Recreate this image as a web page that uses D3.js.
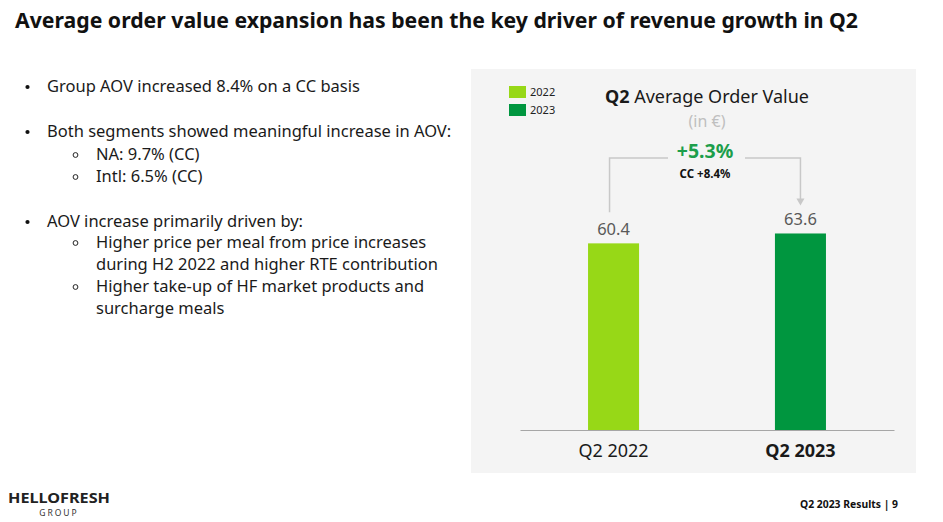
<!DOCTYPE html>
<html><head><meta charset="utf-8">
<script src="https://cdn.jsdelivr.net/npm/d3@7"></script>
<style>
html,body{margin:0;padding:0;background:#fff;}
svg{display:block;font-family:"Noto Sans","Open Sans",sans-serif;}
</style></head>
<body><svg id="c" width="943" height="522"></svg>
<script>
const categories = ["Q2 2022", "Q2 2023"];
const legendLabels = ["2022", "2023"];
const values = [60.4, 63.6];
const growthLabel = "+5.3%";
const ccLabel = "CC +8.4%";
const bullets = [
  {lvl:0, lines:["Group AOV increased 8.4% on a CC basis"]},
  {lvl:0, lines:["Both segments showed meaningful increase in AOV:"]},
  {lvl:1, lines:["NA: 9.7% (CC)"]},
  {lvl:1, lines:["Intl: 6.5% (CC)"]},
  {lvl:0, lines:["AOV increase primarily driven by:"]},
  {lvl:1, lines:["Higher price per meal from price increases","during H2 2022 and higher RTE contribution"]},
  {lvl:1, lines:["Higher take-up of HF market products and","surcharge meals"]}
];
const colors = ["#97d817", "#00963f"];

const svg = d3.select("#c");

// Title
svg.append("text").attr("x",15).attr("y",28)
  .attr("font-size",22).attr("font-weight",700).attr("fill","#111")
  .attr("textLength",843).attr("lengthAdjust","spacingAndGlyphs")
  .text("Average order value expansion has been the key driver of revenue growth in Q2");

// Bullets
const bulletY = [92, 137, 160, 182, 227, 248, 292];
bullets.forEach((b,i)=>{
  const y0 = bulletY[i];
  const bx = b.lvl===0 ? 26 : 74;
  const tx = b.lvl===0 ? 47 : 96;
  if(b.lvl===0){
    svg.append("circle").attr("cx",bx+1.5).attr("cy",y0-5).attr("r",2.1).attr("fill","#111");
  } else {
    svg.append("circle").attr("cx",bx+1.5).attr("cy",y0-5).attr("r",2.4).attr("fill","none").attr("stroke","#222").attr("stroke-width",1);
  }
  b.lines.forEach((ln,j)=>{
    svg.append("text").attr("x",tx).attr("y",y0+j*22).attr("font-size",16.5).attr("fill","#1a1a1a").text(ln);
  });
});

// Panel
svg.append("rect").attr("x",471).attr("y",69).attr("width",445).attr("height",404).attr("fill","#f4f4f4");

// Scales
const x = d3.scaleBand().domain(categories).range([520,894]).paddingInner(0.727).paddingOuter(0.364);
const y = d3.scaleLinear().domain([0,70]).range([430,213.7]);

// Bars
svg.selectAll("rect.bar").data(values).enter().append("rect").attr("class","bar")
  .attr("x",(d,i)=>x(categories[i])).attr("width",x.bandwidth())
  .attr("y",d=>y(d)).attr("height",d=>y(0)-y(d)).attr("fill",(d,i)=>colors[i]);

// Baseline axis
const axis = d3.axisBottom(x).tickSize(0).tickPadding(14);
const ag = svg.append("g").attr("transform",`translate(0,${y(0)})`).call(axis);
ag.select(".domain").attr("stroke","#a6a6a6").attr("stroke-width",1.2);
ag.selectAll("text").attr("font-size",18).attr("fill","#1a1a1a")
  .attr("font-family","'Noto Sans','Open Sans',sans-serif")
  .attr("font-weight",(d,i)=>i===1?700:400);

// Value labels
svg.selectAll("text.val").data(values).enter().append("text").attr("class","val")
  .attr("x",(d,i)=>x(categories[i])+x.bandwidth()/2).attr("y",d=>y(d)-8)
  .attr("text-anchor","middle").attr("font-size",16.5).attr("fill","#595959")
  .text(d=>d.toFixed(1));

// Bracket
const cx0 = x(categories[0])+x.bandwidth()/2 - 4;
const cx1 = x(categories[1])+x.bandwidth()/2;
const topY = 158;
const br = "#c8c8c8";
svg.append("path").attr("d",`M${cx0},${y(values[0])-31}V${topY}H668`).attr("fill","none").attr("stroke",br).attr("stroke-width",1.5);
svg.append("path").attr("d",`M745,${topY}H${cx1}V${y(values[1])-32}`).attr("fill","none").attr("stroke",br).attr("stroke-width",1.5);
svg.append("path").attr("d",`M${cx1-4},${y(values[1])-35}L${cx1+4},${y(values[1])-35}L${cx1},${y(values[1])-28}Z`).attr("fill",br);

const mid = (cx0+cx1)/2;
svg.append("text").attr("x",mid).attr("y",158).attr("text-anchor","middle")
  .attr("font-size",19.5).attr("font-weight",700).attr("fill","#1c9e4b").text(growthLabel);
svg.append("text").attr("x",mid).attr("y",178).attr("text-anchor","middle")
  .attr("font-size",11.5).attr("font-weight",700).attr("fill","#111").text(ccLabel);

// Chart title
const tt = svg.append("text").attr("x",707).attr("y",103).attr("text-anchor","middle").attr("font-size",18).attr("fill","#1a1a1a");
tt.append("tspan").attr("font-weight",700).text("Q2");
tt.append("tspan").text(" Average Order Value");
svg.append("text").attr("x",707).attr("y",127).attr("text-anchor","middle").attr("font-size",16).attr("fill","#bfbfbf").text("(in €)");

// Legend
legendLabels.forEach((l,i)=>{
  svg.append("rect").attr("x",509).attr("y",86+i*18).attr("width",17).attr("height",12).attr("fill",colors[i]);
  svg.append("text").attr("x",530).attr("y",96+i*18).attr("font-size",11).attr("fill","#222").text(l);
});

// Footer
svg.append("text").attr("x",8).attr("y",503).attr("font-size",14.5).attr("font-weight",700).attr("fill","#222")
  .attr("textLength",102).attr("lengthAdjust","spacingAndGlyphs").text("HELLOFRESH");
svg.append("text").attr("x",59).attr("y",516).attr("text-anchor","middle").attr("font-size",8.5).attr("fill","#333")
  .attr("letter-spacing",2).text("GROUP");
svg.append("text").attr("x",898).attr("y",508).attr("text-anchor","end").attr("font-size",11).attr("font-weight",700).attr("fill","#111")
  .attr("textLength",98).attr("lengthAdjust","spacingAndGlyphs")
  .text("Q2 2023 Results | 9");
</script></body></html>
